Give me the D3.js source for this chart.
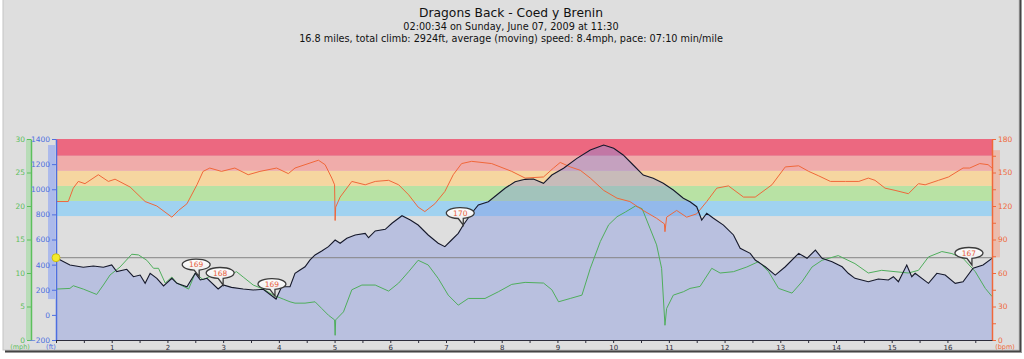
<!DOCTYPE html>
<html>
<head>
<meta charset="utf-8">
<script src="https://cdn.jsdelivr.net/npm/d3@7/dist/d3.min.js"></script>
<style>
  body { margin: 0; background: #fff; }
  text { font-family: "DejaVu Sans", "Lucida Grande", sans-serif; }
</style>
</head>
<body>
<svg id="chart" width="1024" height="359"></svg>
<script>
// titles
const titleLines = [
  "Dragons Back - Coed y Brenin",
  "02:00:34 on Sunday, June 07, 2009 at 11:30",
  "16.8 miles, total climb: 2924ft, average (moving) speed: 8.4mph, pace: 07:10 min/mile"
];

// elevation (ft) against distance (miles)
const elevMiles = [0.00,0.25,0.49,0.67,0.85,1.00,1.09,1.27,1.39,1.51,1.60,1.69,1.81,1.93,2.08,2.17,2.35,2.50,2.59,2.71,2.91,3.00,3.15,3.36,3.54,3.72,3.95,4.05,4.20,4.29,4.38,4.47,4.56,4.65,4.77,4.89,5.01,5.10,5.22,5.37,5.55,5.61,5.73,5.91,6.03,6.21,6.36,6.50,6.68,6.86,6.98,7.10,7.22,7.31,7.46,7.58,7.76,7.91,8.06,8.24,8.42,8.57,8.75,8.90,9.11,9.35,9.59,9.83,10.01,10.18,10.36,10.54,10.72,10.90,11.08,11.26,11.38,11.50,11.59,11.68,11.80,11.98,12.16,12.28,12.46,12.55,12.73,12.91,13.09,13.33,13.48,13.63,13.75,13.93,14.11,14.22,14.34,14.58,14.76,14.94,15.03,15.12,15.27,15.36,15.42,15.66,15.81,15.96,16.14,16.28,16.46,16.64,16.80];
const elevFeet = [455,397,379,389,379,397,344,363,304,317,251,331,291,230,291,251,224,331,278,291,206,238,219,206,198,204,126,224,224,331,357,383,437,477,508,543,596,570,610,636,649,614,668,681,729,789,755,715,636,570,543,596,649,715,809,875,901,954,1008,1060,1079,1082,1047,1113,1167,1246,1312,1352,1326,1273,1193,1113,1087,1047,994,928,901,861,755,809,769,715,636,530,490,437,383,317,383,490,450,516,450,423,383,331,291,264,286,278,304,264,397,304,331,251,331,317,251,264,371,397,450];

// speed (mph)
const speedMiles = [0.00,0.25,0.31,0.49,0.73,0.85,0.97,1.15,1.36,1.48,1.63,1.75,1.84,1.96,2.08,2.17,2.38,2.50,2.64,2.82,3.00,3.24,3.36,3.54,3.72,3.90,4.08,4.20,4.29,4.47,4.65,4.77,4.89,5.00,5.01,5.02,5.16,5.31,5.49,5.73,5.97,6.15,6.33,6.50,6.68,6.86,7.04,7.22,7.40,7.70,7.94,8.18,8.42,8.75,8.90,9.02,9.23,9.44,9.59,9.77,9.92,10.07,10.22,10.40,10.52,10.66,10.78,10.87,10.93,10.96,11.08,11.26,11.38,11.56,11.77,11.92,12.16,12.40,12.61,12.79,12.97,13.21,13.39,13.57,13.75,14.04,14.34,14.58,14.82,15.06,15.30,15.48,15.66,15.90,16.08,16.28,16.50,16.68,16.80];
const speedMph = [7.6,7.7,8.1,7.6,6.8,8.2,9.7,10.9,12.8,12.7,11.9,10.7,10.7,8.5,9.4,8.5,7.6,10.0,9.0,9.7,9.2,10.2,9.4,8.2,7.6,6.7,6.1,5.7,5.5,5.5,5.7,4.7,3.7,3.0,0.7,3.0,4.2,7.5,8.2,8.2,7.3,8.5,10.2,11.9,11.2,9.2,6.7,5.2,6.2,6.2,7.2,8.3,8.6,8.5,7.5,5.7,6.2,6.7,10.7,14.7,17.2,18.4,19.1,20.0,19.6,16.7,14.2,10.7,2.2,4.7,6.7,7.2,7.7,8.0,10.7,10.0,10.2,10.9,11.7,10.2,7.7,7.0,8.7,10.9,11.9,12.6,11.4,10.0,10.4,10.2,10.0,10.4,12.4,13.2,12.9,12.2,10.2,7.7,6.5];

// heart rate (bpm)
const hrMiles = [0.00,0.22,0.31,0.40,0.52,0.76,0.94,1.06,1.33,1.60,1.81,2.08,2.20,2.35,2.53,2.64,2.76,2.97,3.21,3.45,3.66,3.96,4.17,4.29,4.47,4.71,4.83,4.95,5.00,5.01,5.02,5.10,5.31,5.55,5.73,5.97,6.15,6.33,6.50,6.62,6.80,6.98,7.13,7.28,7.46,7.82,8.18,8.42,8.75,8.93,9.05,9.23,9.41,9.59,9.83,10.07,10.30,10.54,10.78,10.92,10.93,10.96,11.14,11.32,11.50,11.68,11.86,12.07,12.34,12.55,12.85,13.09,13.33,13.51,13.69,13.90,14.17,14.41,14.58,14.70,14.88,15.06,15.30,15.48,15.60,15.84,16.02,16.28,16.40,16.58,16.73,16.80];
const hrBpm = [124,124,136,142,140,148,142,144,137,124,120,110,116,122,139,151,154,151,154,148,151,154,149,154,157,161,157,145,139,107,119,128,142,139,142,143,139,130,119,115,122,133,148,158,160,158,151,145,146,154,159,155,152,145,134,127,124,116,109,104,97,110,116,110,113,124,136,138,128,128,139,155,156,151,147,142,142,142,145,143,136,134,131,140,139,143,146,154,154,158,157,154];

// heart rate zones (bpm boundaries, bottom to top)
const zoneBounds = [111, 124.5, 138, 151.5, 165, 180];
const zoneColors = ["#a0d2f0", "#b8e2a4", "#f6d6a0", "#f0acaa", "#ec6880"];

// heart rate call-outs
const markerMiles = [2.57, 3.00, 3.93, 7.31, 16.44];
const markerFeet = [304, 238, 150, 715, 397];
const markerBpm = [169, 168, 169, 170, 167];

// value ranges shown as bands beside the axes
const speedRange = [0, 30];
const elevRange = [126, 1352];
const hrRange = [74, 170];

const speedTicks = [0, 5, 10, 15, 20, 25, 30];
const elevTicks = [-200, 0, 200, 400, 600, 800, 1000, 1200, 1400];
const hrTicks = d3.range(0, 181, 15);
const mileTicks = d3.range(0, 17, 0.5);

const svg = d3.select("#chart");
const plotLeft = 56, plotRight = 992, plotTop = 139, plotBottom = 340;

const x = d3.scaleLinear().domain([0, 16.8]).range([plotLeft, plotRight]);
const yElev = d3.scaleLinear().domain([-200, 1400]).range([plotBottom, plotTop]);
const ySpeed = d3.scaleLinear().domain([0, 30]).range([plotBottom, plotTop]);
const yHr = d3.scaleLinear().domain([0, 180]).range([plotBottom, plotTop]);

// frame + shadow
svg.append("rect").attr("x", 5).attr("y", 0).attr("width", 1017).attr("height", 353).attr("fill", "#9a9a9a");
svg.append("rect").attr("x", 5).attr("y", 0).attr("width", 1016).attr("height", 352).attr("fill", "#444");
svg.append("rect").attr("x", 3).attr("y", -1).attr("width", 1016).attr("height", 351)
  .attr("fill", "#dedede").attr("stroke", "#c4c4c4").attr("stroke-width", 1);

// titles
svg.selectAll("text.title").data(titleLines).join("text")
  .attr("class", "title")
  .attr("x", 511)
  .attr("y", (d, i) => [17, 29.5, 41.5][i])
  .attr("text-anchor", "middle")
  .attr("font-size", (d, i) => i == 0 ? 12.3 : 9.7)
  .attr("fill", "#111")
  .text(d => d);

// heart rate zones
const zones = d3.range(zoneColors.length).map(i => [zoneBounds[i], zoneBounds[i + 1]]);
svg.append("g").selectAll("rect").data(zones).join("rect")
  .attr("x", plotLeft)
  .attr("width", plotRight - plotLeft)
  .attr("y", d => yHr(d[1]))
  .attr("height", d => yHr(d[0]) - yHr(d[1]))
  .attr("fill", (d, i) => zoneColors[i]);

// elevation
const elev = elevMiles.map((m, i) => [m, elevFeet[i]]);
svg.append("path").datum(elev)
  .attr("fill", "#7d90e2").attr("fill-opacity", 0.38)
  .attr("d", d3.area().x(d => x(d[0])).y0(plotBottom).y1(d => yElev(d[1])));

// cursor line at the start elevation
svg.append("line")
  .attr("x1", plotLeft).attr("x2", plotRight)
  .attr("y1", yElev(elevFeet[0])).attr("y2", yElev(elevFeet[0]))
  .attr("stroke", "#858585").attr("stroke-width", 1);

const speed = speedMiles.map((m, i) => [m, speedMph[i]]);
svg.append("path").datum(speed)
  .attr("fill", "none").attr("stroke", "#4fae5c").attr("stroke-width", 1)
  .attr("d", d3.line().x(d => x(d[0])).y(d => ySpeed(d[1])));

const hr = hrMiles.map((m, i) => [m, hrBpm[i]]);
svg.append("path").datum(hr)
  .attr("fill", "none").attr("stroke", "#f0673a").attr("stroke-width", 1)
  .attr("d", d3.line().x(d => x(d[0])).y(d => yHr(d[1])));

svg.append("path").datum(elev)
  .attr("fill", "none").attr("stroke", "#15182a").attr("stroke-width", 1.1)
  .attr("d", d3.line().x(d => x(d[0])).y(d => yElev(d[1])));

// range bands beside axes
svg.append("rect").attr("x", 26).attr("width", 5)
  .attr("y", ySpeed(speedRange[1])).attr("height", ySpeed(speedRange[0]) - ySpeed(speedRange[1]))
  .attr("fill", "#a8dca8").attr("opacity", 0.7);
svg.append("rect").attr("x", 48).attr("width", 7)
  .attr("y", yElev(elevRange[1])).attr("height", yElev(elevRange[0]) - yElev(elevRange[1]))
  .attr("fill", "#9fb0ee").attr("opacity", 0.8);
svg.append("rect").attr("x", 993).attr("width", 7)
  .attr("y", yHr(hrRange[1])).attr("height", yHr(hrRange[0]) - yHr(hrRange[1]))
  .attr("fill", "#eeb3a0").attr("opacity", 0.8);

// axes
function styleAxis(g, color, size) {
  g.select(".domain").attr("stroke", color).attr("stroke-width", 1.5);
  g.selectAll(".tick line").attr("stroke", color);
  g.selectAll(".tick text").attr("fill", color).attr("font-size", size)
    .attr("font-family", "\"DejaVu Sans\", sans-serif");
}

const gSpeed = svg.append("g").attr("transform", "translate(31,0)")
  .call(d3.axisLeft(ySpeed).tickValues(speedTicks).tickSize(4).tickSizeOuter(0).tickPadding(2)
    .tickFormat(d3.format("d")));
styleAxis(gSpeed, "#5cbf5c", 7.5);

const gElev = svg.append("g").attr("transform", `translate(${plotLeft},0)`)
  .call(d3.axisLeft(yElev).tickValues(elevTicks).tickSize(4).tickSizeOuter(0).tickPadding(2)
    .tickFormat(d3.format("d")));
styleAxis(gElev, "#4d6fe0", 7.5);

const gHr = svg.append("g").attr("transform", `translate(${plotRight},0)`)
  .call(d3.axisRight(yHr).tickValues(hrTicks).tickSize(4).tickSizeOuter(0).tickPadding(2)
    .tickFormat(d => d % 30 == 0 ? d : ""));
styleAxis(gHr, "#f0683a", 7.5);

const gX = svg.append("g").attr("transform", `translate(0,${plotBottom})`)
  .call(d3.axisBottom(x).tickValues(mileTicks).tickSize(3).tickSizeOuter(0).tickPadding(2)
    .tickFormat(d => (d > 0 && d % 1 == 0) ? d : ""));
styleAxis(gX, "#2c2c3a", 7);
gX.select(".domain").attr("stroke-width", 1.2);

// unit labels
const units = [["(mph)", 20, "#5cbf5c"], ["(ft)", 51, "#4d6fe0"], ["(bpm)", 1005, "#f0683a"]];
svg.selectAll("text.unit").data(units).join("text")
  .attr("class", "unit")
  .attr("x", d => d[1]).attr("y", 349)
  .attr("text-anchor", "middle")
  .attr("font-size", 6.5)
  .attr("fill", d => d[2])
  .text(d => d[0]);

// yellow cursor dot
svg.append("circle")
  .attr("cx", x(elevMiles[0])).attr("cy", yElev(elevFeet[0])).attr("r", 4)
  .attr("fill", "#f4ea2c").attr("stroke", "#c9b800").attr("stroke-width", 0.8);

// call-out bubbles
const grad = svg.append("defs").append("linearGradient").attr("id", "bub")
  .attr("x1", 0).attr("y1", 0).attr("x2", 0).attr("y2", 1);
grad.append("stop").attr("offset", "0%").attr("stop-color", "#ffffff");
grad.append("stop").attr("offset", "100%").attr("stop-color", "#e4e4e4");

const rx = 14, ry = 5.5;
const bubbles = svg.append("g").selectAll("g").data(markerMiles).join("g")
  .attr("transform", (d, i) => `translate(${x(d)},${yElev(markerFeet[i])})`);
bubbles.append("path")
  .attr("d", (d, i) => {
    const cx = -3, cy = -12;
    const b1 = cy + ry * Math.sqrt(1 - 9 / (rx * rx));
    const b2 = cy + ry * Math.sqrt(1 - 4 / (rx * rx));
    return `M${cx + 3},${b1} A${rx},${ry} 0 1 0 ${cx - 2},${b2} L0,0 Z`;
  })
  .attr("fill", "url(#bub)").attr("stroke", "#3a3a3a").attr("stroke-width", 1.3);
bubbles.append("text")
  .attr("x", -3).attr("y", -9.3)
  .attr("text-anchor", "middle")
  .attr("font-size", 7.5)
  .attr("fill", "#e8603c")
  .text((d, i) => markerBpm[i]);
</script>
</body>
</html>
